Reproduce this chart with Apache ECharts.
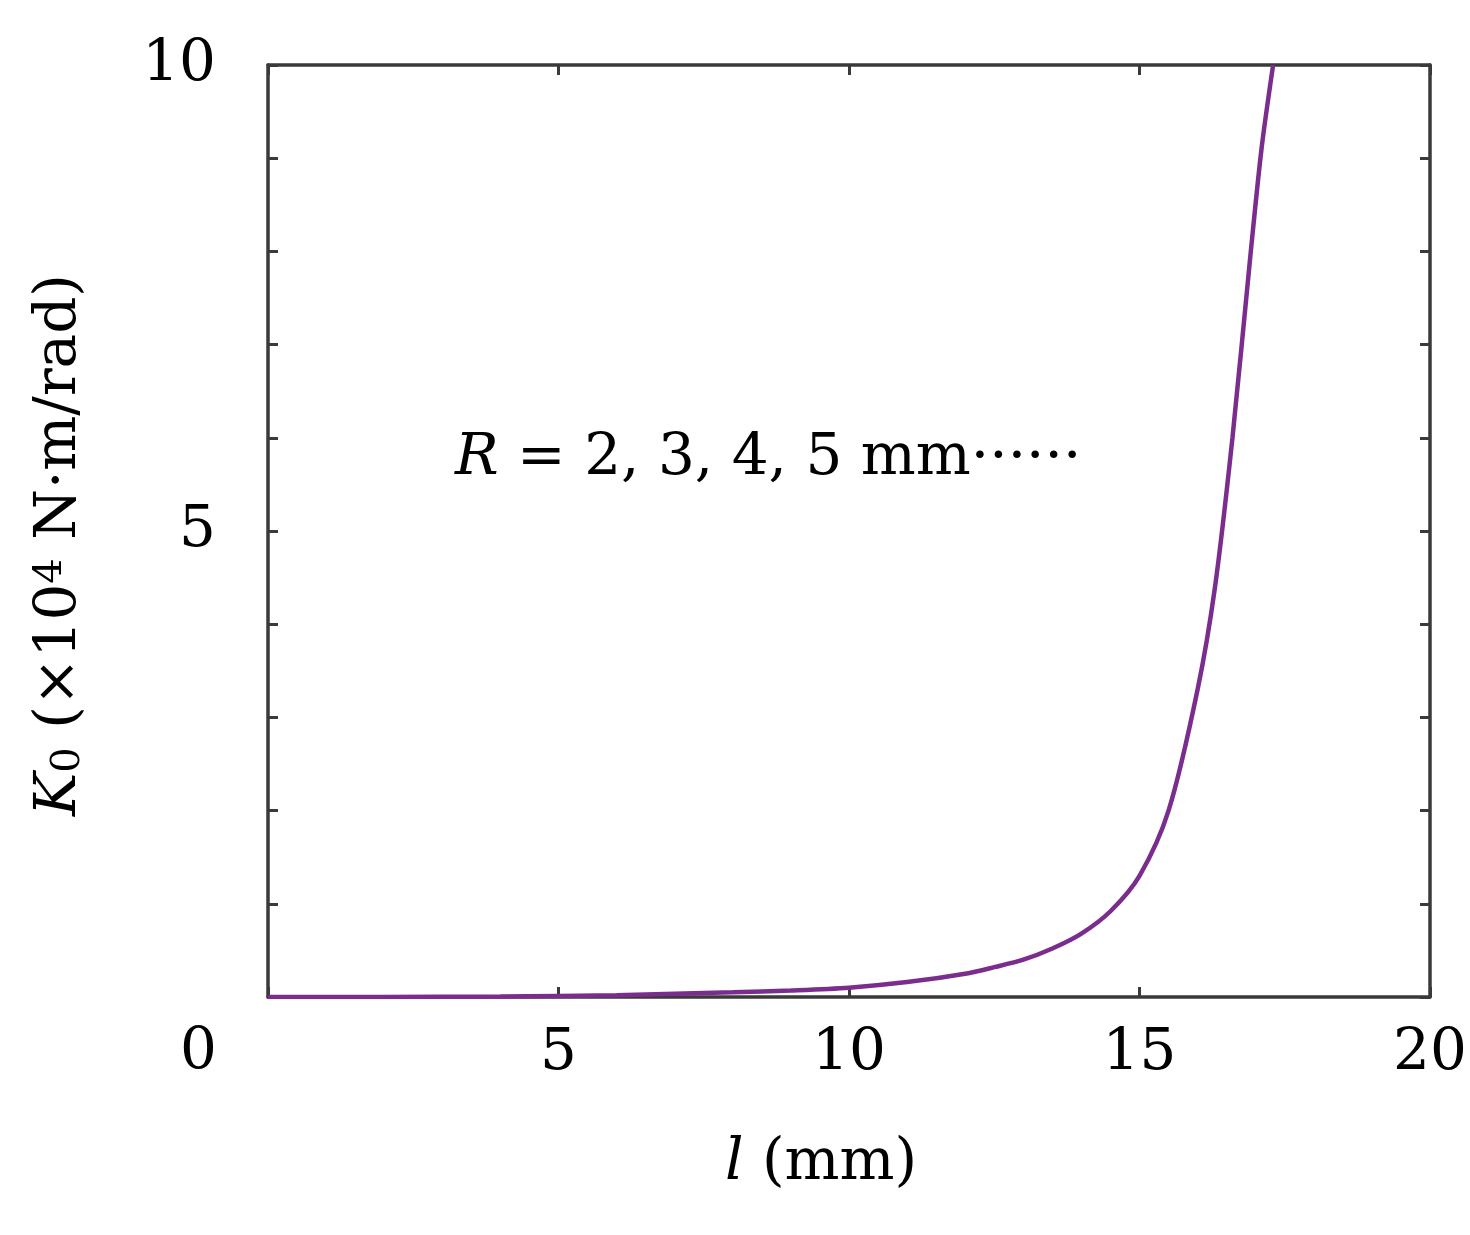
<!DOCTYPE html>
<html>
<head>
<meta charset="UTF-8">
<script src="https://cdn.jsdelivr.net/npm/echarts@6/dist/echarts.min.js"></script>
<style>html,body{margin:0;background:#fff}#c{width:1470px;height:1235px}</style>
</head>
<body>
<div id="c"></div>
<script>
var lValues = [0, 2, 4, 6, 8, 9, 10, 11, 12, 12.5, 13, 13.5, 14, 14.5, 15, 15.5, 16, 16.3, 16.6, 16.9, 17.1, 17.3];
var kValues = [0, 0, 0.005, 0.02, 0.05, 0.07, 0.1, 0.16, 0.25, 0.32, 0.4, 0.52, 0.68, 0.92, 1.3, 2.0, 3.3, 4.4, 6.0, 7.9, 9.1, 10];
var xTicks = [5, 10, 15, 20];
var yLabels = [5, 10];

var font = '"DejaVu Serif", "Liberation Serif", serif';
var chart = echarts.init(document.getElementById('c'));
var pts = lValues.map(function (v, i) { return [v, kValues[i]]; });
var lineAxis = { onZero: false, lineStyle: { color: '#3a3a3a', width: 3.5 } };
var tick = { inside: true, length: 10, lineStyle: { color: '#3a3a3a', width: 3 } };
chart.setOption({
	animation: false,
	grid: { left: 268, right: 40, top: 65, bottom: 238 },
	xAxis: [{
		type: 'value', min: 0, max: 20, interval: 5,
		axisLine: lineAxis, splitLine: { show: false }, axisTick: tick,
		axisLabel: { margin: 28, fontFamily: font, fontSize: 58, color: '#000',
			formatter: function (v) { return xTicks.indexOf(v) >= 0 ? v : ''; } }
	}, {
		type: 'value', position: 'top', min: 0, max: 20, interval: 5,
		axisLine: lineAxis, splitLine: { show: false }, axisTick: tick,
		axisLabel: { show: false }
	}],
	yAxis: [{
		type: 'value', min: 0, max: 10, interval: 1,
		axisLine: lineAxis, splitLine: { show: false }, axisTick: tick,
		axisLabel: { margin: 52, fontFamily: font, fontSize: 58, color: '#000',
			formatter: function (v) { return yLabels.indexOf(v) >= 0 ? v : ''; } }
	}, {
		type: 'value', position: 'right', min: 0, max: 10, interval: 1,
		axisLine: lineAxis, splitLine: { show: false }, axisTick: tick,
		axisLabel: { show: false }
	}],
	series: [{
		type: 'line', data: pts, smooth: 0.3, showSymbol: false, clip: true,
		lineStyle: { color: '#7b2d8e', width: 4.5 }
	}],
	graphic: [
		{ type: 'text', left: 180, top: 1024, style: { text: '0', font: '58px ' + font, fill: '#000' } },
		{ type: 'text', left: 725, top: 1135, style: {
			text: '{i|l} (mm)', font: '58px ' + font, fill: '#000',
			rich: { i: { fontStyle: 'italic', fontSize: 58, fontFamily: font } } } },
		{ type: 'text', x: 60, y: 545, rotation: Math.PI / 2, style: {
			text: '{i|K}{s|0} (×10{p|4} N·m/rad)', font: '58px ' + font, fill: '#000',
			align: 'center', verticalAlign: 'middle',
			rich: {
				i: { fontStyle: 'italic', fontSize: 58, fontFamily: font },
				s: { fontSize: 40, fontFamily: font, verticalAlign: 'bottom', padding: [18, 0, 0, 0] },
				p: { fontSize: 40, fontFamily: font, verticalAlign: 'top', padding: [0, 0, 18, 0] }
			} } },
		{ type: 'text', left: 455, top: 430, style: {
			text: '{i|R} = 2, 3, 4, 5 mm······', font: '58px ' + font, fill: '#000',
			rich: { i: { fontStyle: 'italic', fontSize: 58, fontFamily: font } } } }
	]
});
</script>
</body>
</html>
